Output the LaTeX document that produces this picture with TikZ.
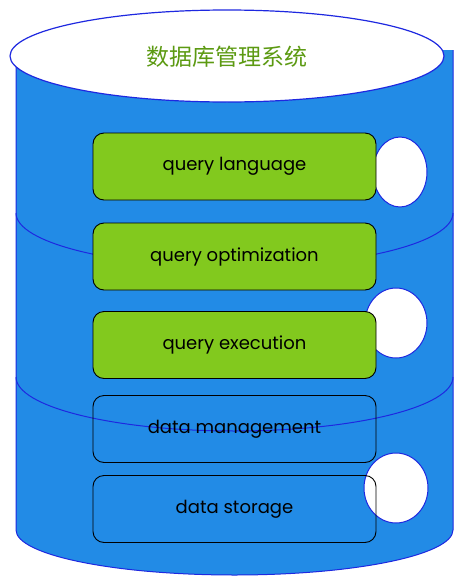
\documentclass[tikz,border=0pt]{standalone}
\usepackage{fontspec}
\setmainfont{Poppins}
\newfontfamily\cjkfont{Noto Sans CJK SC}
\usetikzlibrary{shapes.geometric}
\definecolor{bodyblue}{HTML}{228BE6}
\definecolor{edgeblue}{HTML}{1E28E0}
\definecolor{boxgreen}{HTML}{82C91E}
\definecolor{titlegreen}{HTML}{5C9A12}
\tikzset{
  layerbox/.style={draw=black, line width=0.9pt, rounded corners=11pt, minimum width=283pt, minimum height=67pt, inner sep=0pt, font=\fontsize{18}{20}\selectfont},
  greenbox/.style={layerbox, fill=boxgreen},
  plainbox/.style={layerbox},
  port/.style={ellipse, draw=edgeblue, fill=white, line width=1pt, inner sep=0pt},
  sep/.style={draw=edgeblue, line width=1pt}
}
\begin{document}
\begin{tikzpicture}[x=1pt,y=-1pt]
\useasboundingbox (0,0) rectangle (468,584);
% cylinder body
\fill[bodyblue] (16,50) -- (16,530) arc[start angle=180, end angle=0, x radius=218.5, y radius=45] -- (453,50) -- cycle;
\draw[edgeblue, line width=1pt] (16,50) -- (16,530) arc[start angle=180, end angle=0, x radius=218.5, y radius=45] -- (453,50);
% top ellipse
\node[ellipse, draw=edgeblue, fill=white, line width=1.2pt, minimum width=434pt, minimum height=92pt, inner sep=0pt] (top) at (227,56) {};
\node[text=titlegreen, font=\cjkfont\fontsize{23}{26}\selectfont] (title) at (227,57) {数据库管理系统};
% layer separators
\draw[sep] (16,213) arc[start angle=180, end angle=0, x radius=218.5, y radius=54];
\draw[sep] (16,377) arc[start angle=180, end angle=0, x radius=218.5, y radius=54];
% ports behind boxes
\node[port, minimum width=54pt, minimum height=70pt] (p1) at (400,172) {};
\node[port, minimum width=62pt, minimum height=70pt] (p2) at (396,323) {};
% boxes
\node[greenbox] (b1) at (234.5,166.5) {query language};
\node[greenbox] (b2) at (234.5,256.5) {query optimization};
\node[greenbox] (b3) at (234.5,345) {query execution};
\node[plainbox] (b4) at (234.5,429) {data management};
\node[port, minimum width=64pt, minimum height=70pt] (p3) at (396,488) {};
\node[plainbox] (b5) at (234.5,509) {data storage};
\end{tikzpicture}
\end{document}
